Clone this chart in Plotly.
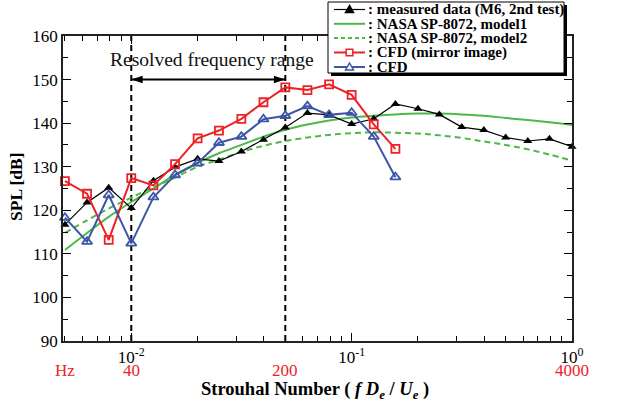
import math
import plotly.graph_objects as go

# ---------------- data ----------------
strouhal = [0.005, 0.0063, 0.0079, 0.01, 0.0126, 0.0158, 0.02, 0.025, 0.0316, 0.0398,
            0.05, 0.063, 0.079, 0.1, 0.126, 0.158, 0.2, 0.25, 0.316, 0.398,
            0.5, 0.63, 0.79, 1.0]

measured = [116.7, 121.8, 125.2, 120.5, 126.8, 129.9, 131.8, 131.3, 133.5, 136.2,
            139.0, 142.3, 141.9, 139.8, 141.0, 144.4, 143.3, 142.0, 139.1, 138.4,
            136.7, 135.9, 136.4, 134.6]

nasa_model1 = [110.9, 114.8, 118.5, 121.9, 125.0, 128.2, 130.9, 133.1, 135.0, 136.9,
               138.5, 139.7, 140.6, 141.3, 141.7, 142.0, 142.2, 142.2, 142.0, 141.7,
               141.2, 140.7, 140.2, 139.6]

nasa_model2 = [114.8, 117.7, 120.4, 122.9, 125.3, 127.5, 130.0, 131.6, 133.4, 134.8,
               135.9, 136.7, 137.3, 137.7, 137.9, 137.8, 137.6, 137.2, 136.6, 135.8,
               135.0, 134.0, 132.8, 131.4]

cfd_mirror = [126.7, 123.8, 113.2, 127.4, 125.7, 130.6, 136.5, 138.3, 141.0, 144.8,
              148.2, 147.6, 148.9, 146.5, 139.7, 134.1]

cfd = [118.3, 112.8, 123.5, 112.4, 123.0, 128.1, 130.8, 135.5, 136.9, 140.9,
       141.7, 143.9, 141.9, 142.4, 136.9, 127.6]

resolved_range = [0.01, 0.05]
resolved_arrow_level = 150
spl_range = [90, 160]
hz_tick_st = [0.005, 0.01, 0.05, 1.0]
hz_tick_text = ["Hz", "40", "200", "4000"]
x_tick_vals = [0.01, 0.1, 1.0]
x_tick_text = ["10<sup>-2</sup>", "10<sup>-1</sup>", "10<sup>0</sup>"]

legend_names = [": measured data (M6, 2nd test)", ": NASA SP-8072, model1",
                ": NASA SP-8072, model2", ": CFD (mirror image)", ": CFD"]

# ---------------- styles ----------------
BLACK = "#000000"
GREEN = "#4db848"
RED = "#ec2227"
BLUE = "#3d56a6"
FONT = "Liberation Serif"

W, H = 619, 408
L, R, T, B = 63, 572, 36, 341  # plot area pixel box


def px(xp):
    return (xp - L) / (R - L)


def py(yp):
    return (B - yp) / (B - T)


fig = go.Figure()

# resolved-range dashed vertical lines
for st in resolved_range:
    fig.add_trace(go.Scatter(x=[st, st], y=spl_range, mode="lines",
                             line=dict(color=BLACK, width=2, dash="6px,4px"),
                             hoverinfo="skip", showlegend=False))

fig.add_trace(go.Scatter(x=strouhal, y=nasa_model1, mode="lines",
                         line=dict(color=GREEN, width=2, shape="spline"), showlegend=False))
fig.add_trace(go.Scatter(x=strouhal, y=nasa_model2, mode="lines",
                         line=dict(color=GREEN, width=2, dash="6px,4px", shape="spline"), showlegend=False))
fig.add_trace(go.Scatter(x=strouhal, y=measured, mode="lines+markers",
                         line=dict(color=BLACK, width=1.2),
                         marker=dict(symbol="triangle-up", size=8, color=BLACK),
                         cliponaxis=False, showlegend=False))
fig.add_trace(go.Scatter(x=strouhal[:len(cfd_mirror)], y=cfd_mirror, mode="lines+markers",
                         line=dict(color=RED, width=2),
                         marker=dict(symbol="square-open", size=8, color=RED, line=dict(width=1.8)),
                         cliponaxis=False, showlegend=False))
fig.add_trace(go.Scatter(x=strouhal[:len(cfd)], y=cfd, mode="lines+markers",
                         line=dict(color=BLUE, width=2),
                         marker=dict(symbol="triangle-up-open", size=9, color=BLUE, line=dict(width=1.8)),
                         cliponaxis=False, showlegend=False))

# double arrow for the resolved range
fig.add_trace(go.Scatter(x=resolved_range, y=[resolved_arrow_level] * 2, mode="lines+markers",
                         line=dict(color=BLACK, width=2),
                         marker=dict(symbol="arrow", size=12, angle=[-90, 90], color=BLACK),
                         hoverinfo="skip", showlegend=False))

shapes = []
annotations = []

annotations.append(dict(x=math.log10(0.0232), y=154.5, xref="x", yref="y",
                        xanchor="center", yanchor="middle",
                        text="Resolved frequency range", showarrow=False,
                        font=dict(family=FONT, size=19.5, color="#111")))

# Hz labels in red
for st, t in zip(hz_tick_st, hz_tick_text):
    annotations.append(dict(x=math.log10(st), y=py(370), xref="x", yref="paper", text=t,
                            xanchor="center", yanchor="middle",
                            showarrow=False, font=dict(family=FONT, size=17, color=RED)))

# axis titles
annotations.append(dict(x=px(315), y=py(390), xref="paper", yref="paper",
                        xanchor="center", yanchor="middle",
                        text="<b>Strouhal Number ( <i>f D<sub>e</sub></i> / <i>U<sub>e</sub></i> )</b>",
                        showarrow=False, font=dict(family=FONT, size=18.5, color=BLACK)))
annotations.append(dict(x=px(16), y=py(187), xref="paper", yref="paper", text="<b>SPL [dB]</b>",
                        xanchor="center", yanchor="middle",
                        textangle=-90, showarrow=False, font=dict(family=FONT, size=17.5, color=BLACK)))

# ---------------- manual legend ----------------
lx0, lx1, ly0, ly1 = 328, 564, 2, 73
shapes.append(dict(type="rect", xref="paper", yref="paper", x0=px(lx0 + 3), x1=px(lx1 + 3),
                   y0=py(ly1 + 3), y1=py(ly0 + 3), fillcolor=BLACK, line=dict(width=0), layer="above"))
shapes.append(dict(type="rect", xref="paper", yref="paper", x0=px(lx0), x1=px(lx1),
                   y0=py(ly1), y1=py(ly0), fillcolor="white", line=dict(color=BLACK, width=1), layer="above"))

row_y = [9.5, 23.8, 38.0, 52.5, 67.0]
styles = [(BLACK, 1.2, None, "tri_fill"), (GREEN, 2, None, None), (GREEN, 2, "4px,3px", None),
          (RED, 2, None, "square"), (BLUE, 2, None, "tri_open")]
sx0, sx1, sxc = 334, 365, 349.5
for name, yy, (col, wd, dash, mk) in zip(legend_names, row_y, styles):
    ln = dict(color=col, width=wd)
    if dash:
        ln["dash"] = dash
    shapes.append(dict(type="line", xref="paper", yref="paper", x0=px(sx0), x1=px(sx1),
                       y0=py(yy), y1=py(yy), line=ln, layer="above"))
    if mk == "tri_fill" or mk == "tri_open":
        s = 4.0
        path = "M {} {} L {} {} L {} {} Z".format(px(sxc), py(yy - s), px(sxc - s), py(yy + s * 0.75),
                                                  px(sxc + s), py(yy + s * 0.75))
        shapes.append(dict(type="path", xref="paper", yref="paper", path=path,
                           fillcolor=col if mk == "tri_fill" else "white",
                           line=dict(color=col, width=1.5), layer="above"))
    elif mk == "square":
        s = 3.3
        shapes.append(dict(type="rect", xref="paper", yref="paper", x0=px(sxc - s), x1=px(sxc + s),
                           y0=py(yy + s), y1=py(yy - s), fillcolor="white",
                           line=dict(color=col, width=1.5), layer="above"))
    annotations.append(dict(x=px(366), y=py(yy), xref="paper", yref="paper", text="<b>" + name + "</b>",
                            xanchor="left", yanchor="middle", showarrow=False,
                            font=dict(family=FONT, size=15, color=BLACK)))

fig.update_layout(
    width=W, height=H,
    margin=dict(l=L, r=W - R, t=T, b=H - B, pad=0, autoexpand=False),
    paper_bgcolor="white", plot_bgcolor="white",
    font=dict(family=FONT, size=17, color=BLACK),
    shapes=shapes, annotations=annotations, showlegend=False,
    xaxis=dict(type="log", range=[math.log10(0.0049), 0], tickvals=x_tick_vals, ticktext=x_tick_text,
               ticks="inside", ticklen=8, tickwidth=1, tickcolor=BLACK, showgrid=False, zeroline=False,
               showline=True, linecolor="#222", linewidth=1.5, mirror="ticks",
               tickfont=dict(family=FONT, size=17, color=BLACK),
               minor=dict(ticks="inside", ticklen=5, tickcolor=BLACK, dtick="D1", showgrid=False)),
    yaxis=dict(range=spl_range, dtick=10, ticks="inside", ticklen=8, tickwidth=1, tickcolor=BLACK,
               showgrid=False, zeroline=False, showline=True, linecolor="#222", linewidth=1.5,
               mirror="ticks", tickfont=dict(family=FONT, size=17, color=BLACK),
               minor=dict(ticks="inside", ticklen=5, tickcolor=BLACK, dtick=5, showgrid=False)),
)

fig.write_html("out.html", config={"displayModeBar": False},
               post_script="document.body.style.margin='0px';")
